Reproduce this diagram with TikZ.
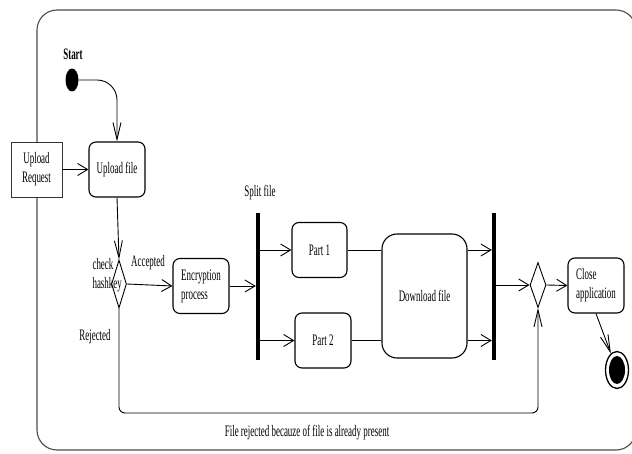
\documentclass[tikz,border=0pt]{standalone}
\usepackage{fontspec}
\setmainfont{Liberation Serif}[FakeStretch=0.56]
\usetikzlibrary{arrows.meta,shapes.geometric}

\tikzset{
	frame/.style={draw=black!70, line width=1.1pt, rounded corners=20pt},
	act/.style={draw, line width=1.1pt, rounded corners=7pt, fill=white, minimum width=56pt, minimum height=55pt, inner sep=2pt, align=left},
	req/.style={draw=black!80, line width=0.9pt, fill=white, minimum width=51pt, minimum height=55pt, inner sep=2pt, align=center},
	bar/.style={fill=black, minimum width=4pt, minimum height=147pt, inner sep=0pt},
	choice/.style={draw, diamond, fill=white, inner sep=0pt, line width=0.9pt},
	flow/.style={line width=0.9pt, -{Straight Barb[length=10pt,width=12pt]}},
	vflow/.style={line width=0.9pt, -{Straight Barb[length=17pt,width=8pt]}},
	link/.style={line width=0.9pt}
}

\begin{document}
\begin{tikzpicture}[x=1pt, y=-1pt, font=\fontsize{16}{19}\selectfont]
		%%%%% START %%%%%
		\useasboundingbox (0,0) rectangle (632,454);
		
		\draw[frame] (37,10) rectangle (636,450);
		
		\node[font=\fontsize{16}{19}\selectfont\bfseries] (startlbl) at (73,54) {Start};
		\node[ellipse, fill=black, minimum width=13pt, minimum height=23pt, inner sep=0pt] (start) at (72,80) {};
		
		\node[req] (request) at (36.5,169.5) {Upload\\Request};
		\node[act, align=center] (upload) at (117,169.5) {Upload file};
		\node[choice, minimum width=15pt, minimum height=48pt] (hash) at (119,284) {};
		\node[anchor=west, align=left] (hashlbl) at (89,275) {check\\hashkey};
		\node (acc) at (148,263) {Accepted};
		\node[act] (encrypt) at (201,286) {Encryption\\process};
		
		\node[bar] (split) at (258,286.5) {};
		\node (splitlbl) at (260,193) {Split file};
		\node[act, minimum width=55pt] (part1) at (319.5,250) {Part 1};
		\node[act] (part2) at (323,340.5) {Part 2};
		\node[act, rounded corners=15pt, minimum width=85pt, minimum height=124pt] (download) at (424.5,296) {Download file};
		\node[bar] (join) at (494,286.5) {};
		
		\node[choice, minimum width=16pt, minimum height=45pt] (merge) at (538,285) {};
		\node[act] (close) at (596,285.5) {Close\\application};
		\node[ellipse, draw, line width=1.3pt, minimum width=23pt, minimum height=37pt, inner sep=0pt] (stop) at (617,370) {};
		\fill (stop) ellipse (8pt and 14pt);
		
		\node (rejlbl) at (95,337) {Rejected};
		\node (msg) at (307,433) {File rejected becauze of file is already present};
		\coordinate (rej) at (0,413);
		
		% connectors
		\draw[vflow, rounded corners=20pt] (start.east) -| (upload.north);
		\draw[flow] (request) -- (upload);
		\draw[vflow] (upload.south) -- (hash.north);
		\draw[flow] (hash.east) -- (encrypt.west);
		\draw[flow] (encrypt.east) -- (encrypt.east -| split.west);
		\draw[flow] (split.east |- part1.west) -- (part1.west);
		\draw[flow] (split.east |- part2.west) -- (part2.west);
		\draw[link] (part1.east) -- (download.west |- part1.east);
		\draw[link] (part2.east) -- (download.west |- part2.east);
		\draw[flow] (download.east |- part1.east) -- (join.west |- part1.east);
		\draw[flow] (download.east |- part2.east) -- (join.west |- part2.east);
		\draw[flow] (join.east |- merge.west) -- (merge.west);
		\draw[flow] (merge.east) -- (close.west);
		\draw[vflow] (close.south) -- (stop);
		\draw[vflow, rounded corners=6pt] (hash.south) -- (hash.south |- rej) -- (merge.south |- rej) -- (merge.south);
		
		%%%%% END %%%%%
\end{tikzpicture}
\end{document}
